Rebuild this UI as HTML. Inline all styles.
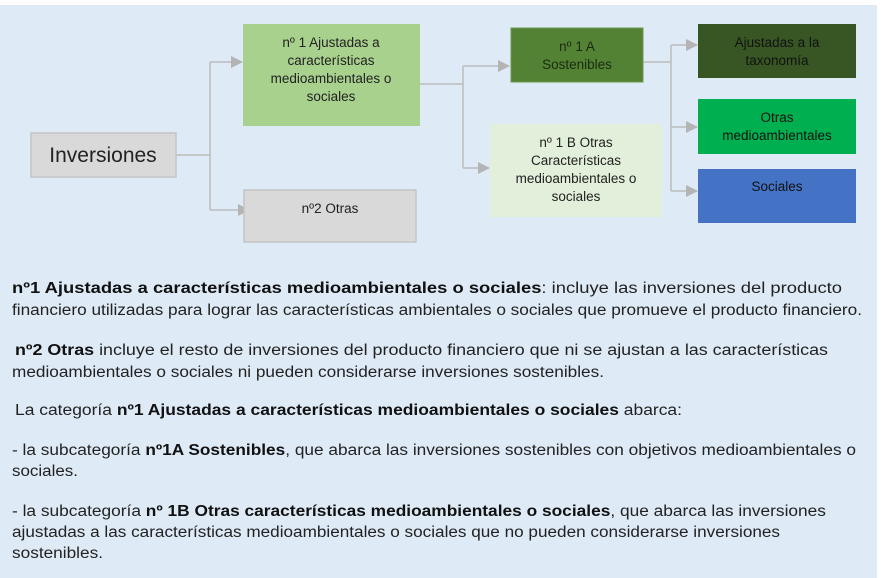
<!DOCTYPE html>
<html><head><meta charset="utf-8"><style>
html,body{margin:0;padding:0;background:#fff;}
svg{display:block;}
text{font-family:"Liberation Sans",sans-serif;fill:#222;}
.b{font-weight:bold;fill:#111;}
</style></head><body>
<svg width="884" height="578" viewBox="0 0 884 578" xmlns="http://www.w3.org/2000/svg">
<defs><marker id="a" markerWidth="12" markerHeight="12" refX="11" refY="6" orient="auto" markerUnits="userSpaceOnUse"><path d="M0,0 L12,6 L0,12 z" fill="#b4b4b4"/></marker></defs>
<rect x="0" y="5" width="877" height="573" fill="#deeaf6"/>
<g stroke="#bcbcbc" stroke-width="1.5" fill="none">
<path d="M176,155 H210"/><path d="M210,62 V210"/>
<path d="M210,62 H242" marker-end="url(#a)"/><path d="M210,210 H249" marker-end="url(#a)"/>
<path d="M420,84 H463"/><path d="M463,66 V168"/>
<path d="M463,66 H509" marker-end="url(#a)"/><path d="M463,168 H489" marker-end="url(#a)"/>
<path d="M643,62 H671"/><path d="M671,45 V191"/>
<path d="M671,45 H697" marker-end="url(#a)"/><path d="M671,127 H697" marker-end="url(#a)"/><path d="M671,191 H697" marker-end="url(#a)"/>
</g>
<rect x="31" y="133" width="145" height="44" fill="#d9d9d9" stroke="#c4c4c4" stroke-width="1.5"/>
<text x="103" y="162" font-size="21" text-anchor="middle" fill="#333">Inversiones</text>
<rect x="243" y="24" width="177" height="102" fill="#a9d18e"/>
<g font-size="13.5" text-anchor="middle"><text x="331" y="47">nº 1  Ajustadas a</text><text x="331" y="65">características</text><text x="331" y="83">medioambientales o</text><text x="331" y="101">sociales</text></g>
<rect x="244" y="190" width="172" height="52" fill="#d9d9d9" stroke="#c4c4c4" stroke-width="1.5"/>
<text x="330" y="213" font-size="13.5" text-anchor="middle">nº2 Otras</text>
<rect x="511" y="28" width="132" height="54" fill="#548235" stroke="#6b9a4a"/>
<g font-size="13.5" text-anchor="middle"><text x="577" y="51" style="fill:#1a2a10">nº 1 A</text><text x="577" y="69" style="fill:#1a2a10">Sostenibles</text></g>
<rect x="490" y="124" width="172" height="93" fill="#e2efda"/>
<g font-size="13.5" text-anchor="middle"><text x="576" y="147">nº 1 B Otras</text><text x="576" y="165">Características</text><text x="576" y="183">medioambientales o</text><text x="576" y="201">sociales</text></g>
<rect x="698" y="24" width="158" height="54" fill="#375623"/>
<text x="777" y="47" font-size="13.5" text-anchor="middle" style="fill:#111">Ajustadas a la</text><text x="777" y="65" font-size="13.5" text-anchor="middle" style="fill:#111">taxonomía</text>
<rect x="698" y="99" width="158" height="55" fill="#00b050"/>
<text x="777" y="122" font-size="13.5" text-anchor="middle" style="fill:#111">Otras</text><text x="777" y="140" font-size="13.5" text-anchor="middle" style="fill:#111">medioambientales</text>
<rect x="698" y="169" width="158" height="54" fill="#4472c4"/>
<text x="777" y="191" font-size="13.5" text-anchor="middle" style="fill:#111">Sociales</text>
<g font-size="15.5">
<text x="12" y="293" textLength="830" lengthAdjust="spacingAndGlyphs"><tspan class="b">nº1 Ajustadas a características medioambientales o sociales</tspan>: incluye las inversiones del producto</text>
<text x="12" y="315" textLength="850" lengthAdjust="spacingAndGlyphs">financiero utilizadas para lograr las características ambientales o sociales que promueve el producto financiero.</text>
<text x="15" y="355" textLength="813" lengthAdjust="spacingAndGlyphs"><tspan class="b">nº2 Otras</tspan> incluye el resto de inversiones del producto financiero que ni se ajustan a las características</text>
<text x="12" y="377" textLength="592" lengthAdjust="spacingAndGlyphs">medioambientales o sociales ni pueden considerarse inversiones sostenibles.</text>
<text x="15" y="415" textLength="667" lengthAdjust="spacingAndGlyphs">La categoría <tspan class="b">nº1 Ajustadas a características medioambientales o sociales</tspan> abarca:</text>
<text x="12" y="455" textLength="844" lengthAdjust="spacingAndGlyphs">- la subcategoría <tspan class="b">nº1A Sostenibles</tspan>, que abarca las inversiones sostenibles con objetivos medioambientales o</text>
<text x="12" y="476" textLength="66" lengthAdjust="spacingAndGlyphs">sociales.</text>
<text x="12" y="516" textLength="814" lengthAdjust="spacingAndGlyphs">- la subcategoría <tspan class="b">nº 1B Otras características medioambientales o sociales</tspan>, que abarca las inversiones</text>
<text x="12" y="537" textLength="768" lengthAdjust="spacingAndGlyphs">ajustadas a las características medioambientales o sociales que no pueden considerarse inversiones</text>
<text x="12" y="558" textLength="91" lengthAdjust="spacingAndGlyphs">sostenibles.</text>
</g>
</svg>
</body></html>
